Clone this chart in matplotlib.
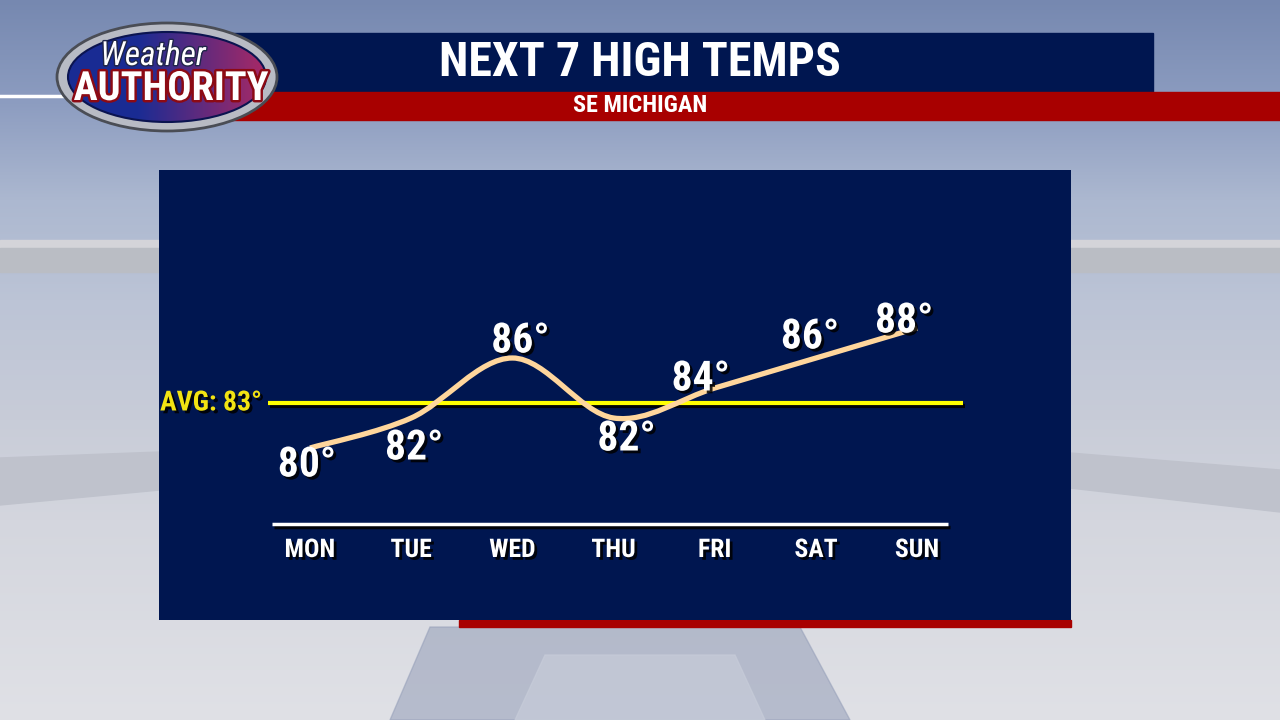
import numpy as np
import matplotlib
matplotlib.use('Agg')
import matplotlib.pyplot as plt
from matplotlib import font_manager
from matplotlib.path import Path
from matplotlib.patches import PathPatch, Ellipse, Rectangle, Polygon
import matplotlib.patheffects as pe

# chart data
days = ['MON', 'TUE', 'WED', 'THU', 'FRI', 'SAT', 'SUN']
highs = [80, 82, 86, 82, 84, 86, 88]
avg_high = 83
title = 'NEXT 7 HIGH TEMPS'
subtitle = 'SE MICHIGAN'

# label offsets (pixels) from each point
label_dx = [-3, 3, 8, 13, -14, -6, -13]
label_dy = [-17, -30, 17, -21, 9, 21, 7]

NAVY = '#001650'
RED = '#a80000'
CURVE = '#ffd69c'
YELLOW = '#ffff00'

# pick a narrow font if one is around
fonts = font_manager.fontManager.ttflist
names = {f.name for f in fonts}
STRETCH = 'normal'
FONT = ['DejaVu Sans']
for cand in ['Roboto Condensed', 'Liberation Sans Narrow', 'Open Sans Condensed']:
    if cand in names:
        FONT = [cand, 'DejaVu Sans']
        break
else:
    if any(f.name == 'DejaVu Sans' and f.stretch == 'condensed' for f in fonts):
        STRETCH = 'condensed'
    elif 'Roboto' in names:
        FONT = ['Roboto', 'DejaVu Sans']
narrow = FONT[0] not in ('DejaVu Sans', 'Roboto') or STRETCH == 'condensed'
k = 1.0 if narrow else 0.82   # shrink sizes for wider fonts

fig = plt.figure(figsize=(12.8, 7.2), dpi=100)

# ---- background (pixel coords)
bg = fig.add_axes([0, 0, 1, 1])
bg.set_xlim(0, 1280)
bg.set_ylim(720, 0)
bg.axis('off')

stops_y = [0, 100, 200, 300, 420, 520, 720]
stops_c = np.array([(118, 136, 176), (140, 156, 192), (172, 184, 208),
                    (188, 196, 214), (200, 204, 216), (212, 214, 222),
                    (224, 225, 230)]) / 255.0
yy = np.arange(720)
grad = np.stack([np.interp(yy, stops_y, stops_c[:, j]) for j in range(3)], axis=-1)
bg.imshow(grad[:, None, :], extent=(0, 1280, 720, 0), aspect='auto', zorder=0)

bg.add_patch(Rectangle((0, 240), 1280, 8, color=(0.83, 0.83, 0.85), zorder=1))
bg.add_patch(Rectangle((0, 248), 1280, 24, color=(0.73, 0.74, 0.77), zorder=1))
bg.add_patch(Polygon([(0, 458), (160, 452), (160, 490), (0, 505)],
                     color=(0.75, 0.76, 0.80), zorder=1))
bg.add_patch(Polygon([(1070, 453), (1280, 470), (1280, 512), (1070, 488)],
                     color=(0.75, 0.76, 0.80), zorder=1))
bg.add_patch(Polygon([(430, 627), (800, 627), (850, 720), (390, 720)],
                     color=(0.58, 0.62, 0.72), alpha=0.55, zorder=1))
bg.add_patch(Polygon([(545, 655), (735, 655), (765, 720), (515, 720)],
                     color=(0.78, 0.80, 0.85), alpha=0.7, zorder=1))

# header bars
bg.add_patch(Rectangle((230, 33), 923, 59, color=NAVY, zorder=2))
bg.add_patch(Rectangle((230, 92), 1050, 28, color=RED, zorder=2))
bg.plot([0, 62], [96, 96], color='white', lw=2.5, zorder=2)
bg.text(640, 63, title, color='white', fontsize=34.5 * k, fontweight='bold',
        family=FONT, fontstretch=STRETCH, ha='center', va='center', zorder=3)
bg.text(640, 106, subtitle, color='white', fontsize=17.5 * k, fontweight='bold',
        family=FONT, fontstretch=STRETCH, ha='center', va='center', zorder=3)

# logo
bg.add_patch(Ellipse((167, 77), 220, 108, facecolor='#b8bbc4',
                     edgecolor='#4a4d55', lw=2, zorder=4))
inner = Ellipse((167, 77), 198, 90, facecolor='none', edgecolor='#0b1450',
                lw=1.5, zorder=6)
bg.add_patch(inner)
hx = np.linspace(0, 1, 200)
c_left = np.array([0.10, 0.17, 0.58])
c_right = np.array([0.66, 0.16, 0.40])
w = np.clip((hx - 0.35) / 0.65, 0, 1)[:, None]
hgrad = (c_left * (1 - w) + c_right * w)[None, :, :]
im = bg.imshow(hgrad, extent=(68, 266, 122, 32), aspect='auto', zorder=5)
im.set_clip_path(inner)
bg.text(153, 56, 'Weather', color='white', fontsize=24 * k, style='italic',
        family=FONT, fontstretch=STRETCH, ha='center', va='center', zorder=7,
        path_effects=[pe.withStroke(linewidth=2, foreground='#20264a')])
bg.text(171, 89, 'AUTHORITY', color='white', fontsize=29 * k, fontweight='bold',
        family=FONT, fontstretch=STRETCH, ha='center', va='center', zorder=7,
        path_effects=[pe.withStroke(linewidth=3.5, foreground='#8c0a14')])

# red strip under panel
bg.add_patch(Rectangle((459, 620), 612, 7, color=RED, zorder=2))

# ---- chart panel
left_px, right_px, top_px, bot_px = 159, 1071, 170, 620
x0_px, px_per_day = 310, 101.2
avg_px, px_per_deg = 403, 15.0

ax = fig.add_axes([left_px / 1280, (720 - bot_px) / 720,
                   (right_px - left_px) / 1280, (bot_px - top_px) / 720])
ax.set_facecolor(NAVY)
ax.set_xlim((left_px - x0_px) / px_per_day, (right_px - x0_px) / px_per_day)
ax.set_ylim(avg_high - (bot_px - avg_px) / px_per_deg,
            avg_high + (avg_px - top_px) / px_per_deg)
for s in ax.spines.values():
    s.set_visible(False)
ax.set_xticks([])
ax.set_yticks([])

shadow_line = [pe.SimpleLineShadow(offset=(1.5, -2.5), shadow_color='black', alpha=0.9), pe.Normal()]
shadow_text = [pe.withSimplePatchShadow(offset=(2, -2), shadow_rgbFace='black', alpha=0.85)]

# average line
xa0 = (268 - x0_px) / px_per_day
xa1 = (963 - x0_px) / px_per_day
ax.plot([xa0, xa1], [avg_high, avg_high], color=YELLOW, lw=3, solid_capstyle='butt',
        path_effects=shadow_line, zorder=3)
ax.text(xa0 - 0.06, avg_high, 'AVG: %d°' % avg_high, color='#f2e312', fontsize=20 * k,
        fontweight='bold', family=FONT, fontstretch=STRETCH, ha='right', va='center',
        path_effects=shadow_text, zorder=4)

# smooth curve through highs (Catmull-Rom -> cubic bezier)
xs = np.arange(len(highs), dtype=float)
ys = np.array(highs, dtype=float)
px = np.concatenate([[xs[0]], xs, [xs[-1]]])
py = np.concatenate([[ys[0]], ys, [ys[-1]]])
verts = [(xs[0], ys[0])]
codes = [Path.MOVETO]
for i in range(len(xs) - 1):
    c1 = (px[i + 1] + (px[i + 2] - px[i]) / 6, py[i + 1] + (py[i + 2] - py[i]) / 6)
    c2 = (px[i + 2] - (px[i + 3] - px[i + 1]) / 6, py[i + 2] - (py[i + 3] - py[i + 1]) / 6)
    verts += [c1, c2, (xs[i + 1], ys[i + 1])]
    codes += [Path.CURVE4] * 3
ax.add_patch(PathPatch(Path(verts, codes), fill=False, edgecolor=CURVE, lw=3.8,
                       capstyle='butt', zorder=5))

for i, t in enumerate(highs):
    ax.annotate('%d°' % t, (xs[i], t), xytext=(label_dx[i], label_dy[i]),
                textcoords='offset pixels', color='white', fontsize=30 * k,
                fontweight='bold', family=FONT, fontstretch=STRETCH,
                ha='center', va='center', path_effects=shadow_text, zorder=6)

# baseline and day labels
xb0 = (272 - x0_px) / px_per_day
xb1 = (948 - x0_px) / px_per_day
base_y = (bot_px - 524) / (bot_px - top_px)
day_y = (bot_px - 550) / (bot_px - top_px)
ax.plot([xb0, xb1], [base_y, base_y], color='white', lw=2.5, solid_capstyle='butt',
        transform=ax.get_xaxis_transform(), path_effects=shadow_line, zorder=3)
for i, d in enumerate(days):
    ax.text(xs[i], day_y, d, color='white', fontsize=18.5 * k, fontweight='bold',
            family=FONT, fontstretch=STRETCH, ha='center', va='center',
            transform=ax.get_xaxis_transform(), path_effects=shadow_text, zorder=4)

fig.savefig('out.png', dpi=100)
